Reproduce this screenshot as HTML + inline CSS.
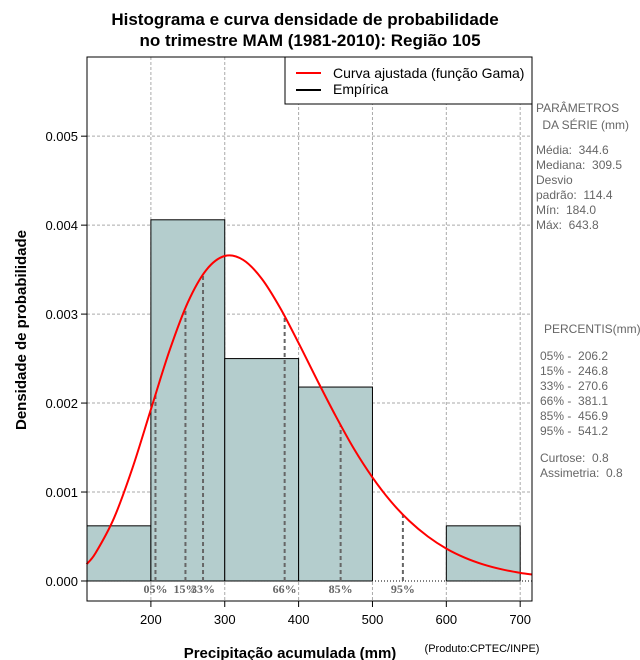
<!DOCTYPE html>
<html><head><meta charset="utf-8"><style>
body{margin:0;background:#fff;width:640px;height:660px;overflow:hidden}
svg{display:block;font-family:"Liberation Sans",sans-serif}
text{white-space:pre}
</style></head><body>
<svg id="c" width="640" height="660">
<text x="305" y="25" text-anchor="middle" font-size="17" font-weight="bold">Histograma e curva densidade de probabilidade</text>
<text x="310" y="46" text-anchor="middle" font-size="17" font-weight="bold">no trimestre MAM (1981-2010): Região 105</text>
<g id="grid"></g><g id="bars"></g><g id="pct"></g><g id="curve"></g><g id="axes"></g>
<rect x="87" y="57" width="445" height="544" fill="none" stroke="#000"/>
<g>
<rect x="285" y="57" width="247" height="47" fill="#fff" stroke="#000"/>
<line x1="296" y1="73" x2="321" y2="73" stroke="#f00" stroke-width="2"/>
<text x="333" y="78" font-size="14">Curva ajustada (função Gama)</text>
<line x1="296" y1="90" x2="321" y2="90" stroke="#000" stroke-width="2"/>
<text x="333" y="94" font-size="14">Empírica</text>
</g>
<g font-size="12" fill="#666">
<text x="536" y="112">PARÂMETROS</text><text x="539" y="129"> DA SÉRIE (mm)</text>
<text x="536" y="154">Média:  344.6</text><text x="536" y="169">Mediana:  309.5</text>
<text x="536" y="184">Desvio</text><text x="536" y="199">padrão:  114.4</text>
<text x="536" y="214">Mín:  184.0</text><text x="536" y="229">Máx:  643.8</text>
</g>
<g font-size="12" fill="#666">
<text x="544" y="333">PERCENTIS(mm)</text>
<text x="540" y="360">05% -  206.2</text><text x="540" y="375">15% -  246.8</text>
<text x="540" y="390">33% -  270.6</text><text x="540" y="405">66% -  381.1</text>
<text x="540" y="420">85% -  456.9</text><text x="540" y="435">95% -  541.2</text>
<text x="540" y="462">Curtose:  0.8</text><text x="540" y="477">Assimetria:  0.8</text>
</g>
<text x="290" y="658" text-anchor="middle" font-size="15" font-weight="bold">Precipitação acumulada (mm)</text>
<text x="482" y="652" text-anchor="middle" font-size="11">(Produto:CPTEC/INPE)</text>
<text transform="translate(26,330) rotate(-90)" text-anchor="middle" font-size="15" font-weight="bold">Densidade de probabilidade</text>
</svg>
<script>
const binEdges=[100,200,300,400,500,600,700];
const binDensity=[0.00062,0.00406,0.0025,0.00218,0,0.00062];
const curveX=[113,125,150,175,200,225,250,275,300,325,350,375,400,425,450,475,500,525,550,575,600,625,650,675,700,716];
const curveY=[0.00019,0.000313,0.000706,0.001268,0.001928,0.002584,0.003131,0.003496,0.003653,0.003609,0.003399,0.00307,0.002674,0.00226,0.001858,0.001485,0.001164,0.000893,0.000674,0.0005,0.000364,0.000262,0.000186,0.000131,0.000091,0.000072];
const pctLabels=["05%","15%","33%","66%","85%","95%"];
const pctValues=[206.2,246.8,270.6,381.1,456.9,541.2];
const xTicks=[200,300,400,500,600,700];
const yTicks=[0,0.001,0.002,0.003,0.004,0.005];
const yTickLabels=["0.000","0.001","0.002","0.003","0.004","0.005"];
const X0=87,X1=532,Y0=601,Y1=57,xmin=113.5,xmax=716,ymin=-0.000225,ymax=0.00589;
const sx=v=>X0+(v-xmin)/(xmax-xmin)*(X1-X0);
const sy=v=>Y0-(v-ymin)/(ymax-ymin)*(Y0-Y1);
const NS="http://www.w3.org/2000/svg";
function mk(t,a,p){const e=document.createElementNS(NS,t);for(const k in a)e.setAttribute(k,a[k]);document.getElementById(p).appendChild(e);return e;}
function dens(x){for(let i=0;i<curveX.length-1;i++){if(x>=curveX[i]&&x<=curveX[i+1]){const t=(x-curveX[i])/(curveX[i+1]-curveX[i]);return curveY[i]+t*(curveY[i+1]-curveY[i]);}}return 0;}
xTicks.forEach(v=>{const g=mk('line',{x1:sx(v),x2:sx(v),y1:Y1,y2:Y0,stroke:'#aaa','stroke-dasharray':'3,2'},'grid');

mk('line',{x1:sx(v),x2:sx(v),y1:Y0,y2:Y0+6,stroke:'#000'},'axes');
const l=mk('text',{x:sx(v),y:Y0+23,'text-anchor':'middle','font-size':13},'axes');l.textContent=v;
});
yTicks.forEach((v,i)=>{if(v>0){const g=mk('line',{x1:X0,x2:X1,y1:sy(v),y2:sy(v),stroke:'#aaa','stroke-dasharray':'3,2'},'grid');
}
mk('line',{x1:X0-6,x2:X0,y1:sy(v),y2:sy(v),stroke:'#000'},'axes');
const l=mk('text',{x:X0-9,y:sy(v)+5,'text-anchor':'end','font-size':13},'axes');l.textContent=yTickLabels[i];
});
binDensity.forEach((d,i)=>{if(d<=0)return;const a=Math.max(sx(binEdges[i]),X0),b=sx(binEdges[i+1]);
const r=mk('rect',{x:a,y:sy(d),width:b-a,height:sy(0)-sy(d),fill:'#b4cdcd',stroke:'#000'},'bars');
});
const z=mk('line',{x1:X0,x2:X1,y1:sy(0),y2:sy(0),stroke:'#000','stroke-dasharray':'1,2'},'bars');

pctValues.forEach((v,i)=>{const x=sx(v);
const l=mk('line',{x1:x,x2:x,y1:sy(0),y2:sy(dens(v)),stroke:'#666','stroke-width':2,'stroke-dasharray':'4,3'},'pct');

const t=mk('text',{x:x,y:sy(0)+12,'text-anchor':'middle','font-size':12,'font-weight':'bold',fill:'#666','font-family':'Liberation Serif,serif'},'pct');t.textContent=pctLabels[i];
});
// Catmull-Rom smooth path through data points
const P=curveX.map((x,i)=>[sx(x),sy(curveY[i])]);
let d='M'+P[0][0]+','+P[0][1];
for(let i=0;i<P.length-1;i++){const p0=P[Math.max(i-1,0)],p1=P[i],p2=P[i+1],p3=P[Math.min(i+2,P.length-1)];
d+=' C'+(p1[0]+(p2[0]-p0[0])/6)+','+(p1[1]+(p2[1]-p0[1])/6)+' '+(p2[0]-(p3[0]-p1[0])/6)+','+(p2[1]-(p3[1]-p1[1])/6)+' '+p2[0]+','+p2[1];}
const p=mk('path',{d:d,fill:'none',stroke:'#f00','stroke-width':2},'curve');

</script>
</body></html>
